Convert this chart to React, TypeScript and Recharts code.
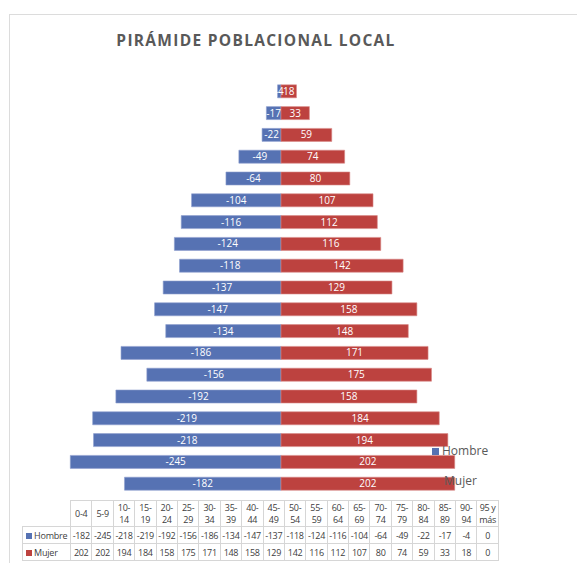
import React from "react";
import { BarChart, Bar, XAxis, YAxis, LabelList } from "recharts";

const ageGroups = ["0-4", "5-9", "10-14", "15-19", "20-24", "25-29", "30-34", "35-39", "40-44", "45-49", "50-54", "55-59", "60-64", "65-69", "70-74", "75-79", "80-84", "85-89", "90-94", "95 y más"];
const hombre = [-182, -245, -218, -219, -192, -156, -186, -134, -147, -137, -118, -124, -116, -104, -64, -49, -22, -17, -4, 0];
const mujer = [202, 202, 194, 184, 158, 175, 171, 148, 158, 129, 142, 116, 112, 107, 80, 74, 59, 33, 18, 0];
const seriesNames = ["Hombre", "Mujer"];
const BLUE = "#5672b3";
const RED = "#bd423f";
const FONT = "'Open Sans', 'Noto Sans', sans-serif";

const data = ageGroups.map((g, i) => ({ age: g, Hombre: hombre[i], Mujer: mujer[i] }));

const fmt = (v: any) => (v === 0 ? "" : String(v));

function splitLabel(s: string): [string, string] {
  if (s.includes(" ")) {
    const i = s.lastIndexOf(" ");
    return [s.slice(0, i), s.slice(i + 1)];
  }
  if (s.length > 3) {
    const i = s.indexOf("-");
    return [s.slice(0, i + 1), s.slice(i + 1)];
  }
  return [s, ""];
}

const cellBorder = "1px solid #d6d6d6";

export default function App() {
  const colW = 21.4;
  return (
    <div style={{ position: "absolute", left: 0, top: 0, width: 577, height: 563, background: "#fff", overflow: "hidden", fontFamily: FONT }}>
      <div style={{ position: "absolute", left: 9, top: 14, width: 600, height: 560, border: "1px solid #dcdcdc" }} />
      <div style={{ position: "absolute", left: 0, top: 29, width: 512, textAlign: "center", fontWeight: 700, fontSize: 15.5, letterSpacing: 1.3, color: "#595959" }}>
        PIRÁMIDE POBLACIONAL LOCAL
      </div>
      <div style={{ position: "absolute", left: 0, top: 0 }}>
        <BarChart
          width={577}
          height={563}
          data={data}
          layout="vertical"
          stackOffset="sign"
          barSize={13}
          margin={{ top: 59, right: 81, bottom: 68, left: 66 }}
        >
          <XAxis type="number" domain={[-250, 250]} hide />
          <YAxis type="category" dataKey="age" reversed hide />
          <Bar dataKey="Hombre" stackId="a" fill={BLUE} stroke="#8ea0cf" strokeWidth={0.6} isAnimationActive={false}>
            <LabelList dataKey="Hombre" position="center" fill="#ffffff" fontSize={10} fontFamily={FONT} formatter={fmt} />
          </Bar>
          <Bar dataKey="Mujer" stackId="a" fill={RED} stroke="#d98a88" strokeWidth={0.6} isAnimationActive={false}>
            <LabelList dataKey="Mujer" position="center" fill="#ffffff" fontSize={10} fontFamily={FONT} formatter={fmt} />
          </Bar>
        </BarChart>
      </div>
      {/* legend (drawn over bars, as in the reference) */}
      <div style={{ position: "absolute", left: 432, top: 443, fontSize: 12, color: "#595959", whiteSpace: "nowrap", lineHeight: "16px" }}>
        <span style={{ display: "inline-block", width: 7, height: 7, background: BLUE, marginRight: 3 }} />
        {seriesNames[0]}
      </div>
      <div style={{ position: "absolute", left: 434, top: 473, fontSize: 12, color: "#595959", whiteSpace: "nowrap", lineHeight: "16px" }}>
        <span style={{ display: "inline-block", width: 7, height: 7, background: RED, marginRight: 3 }} />
        {seriesNames[1]}
      </div>
      {/* data table */}
      <table style={{ position: "absolute", left: 22, top: 500, borderCollapse: "collapse", tableLayout: "fixed", width: 48 + colW * 20, fontSize: 9, letterSpacing: -0.3, color: "#404040", fontFamily: FONT }}>
        <colgroup>
          <col style={{ width: 48 }} />
          {ageGroups.map((g) => (
            <col key={g} style={{ width: colW }} />
          ))}
        </colgroup>
        <tbody>
          <tr style={{ height: 26 }}>
            <td style={{ padding: 0 }} />
            {ageGroups.map((g) => {
              const [a, b] = splitLabel(g);
              return (
                <td key={g} style={{ border: cellBorder, padding: 0, textAlign: "center", lineHeight: "12px", whiteSpace: "nowrap" }}>
                  {a}
                  {b ? <br /> : null}
                  {b}
                </td>
              );
            })}
          </tr>
          {[hombre, mujer].map((arr, r) => (
            <tr key={r} style={{ height: 17 }}>
              <td style={{ border: cellBorder, padding: "0 0 0 3px", whiteSpace: "nowrap", fontSize: 9, letterSpacing: -0.2 }}>
                <span style={{ display: "inline-block", width: 6, height: 6, background: r === 0 ? BLUE : RED, marginRight: 2 }} />
                {seriesNames[r]}
              </td>
              {arr.map((v, i) => (
                <td key={i} style={{ border: cellBorder, padding: 0, textAlign: "center", whiteSpace: "nowrap" }}>
                  {v}
                </td>
              ))}
            </tr>
          ))}
        </tbody>
      </table>
    </div>
  );
}
